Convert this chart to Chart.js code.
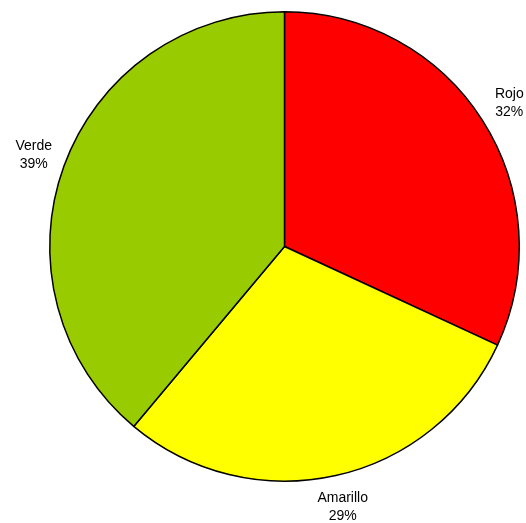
<!DOCTYPE html>
<html>
<head>
<meta charset="utf-8">
<script src="https://cdn.jsdelivr.net/npm/chart.js@4/dist/chart.umd.min.js"></script>
<style>
    html, body { margin: 0; padding: 0; background: #ffffff; }
    #wrap { width: 526px; height: 523px; position: relative; }
</style>
</head>
<body>
<div id="wrap"><canvas id="pie-chart"></canvas></div>
<script>
// Pie data
const categories = ['Rojo', 'Amarillo', 'Verde'];
const shares = [31.9, 29.2, 38.9];
const shareLabels = ['32%', '29%', '39%'];
const sliceColors = ['#ff0000', '#ffff00', '#99cc00'];

// Draw category + percent outside each slice
const outsideLabels = {
    id: 'outsideLabels',
    afterDatasetsDraw(chart) {
        const ctx = chart.ctx;
        const arcs = chart.getDatasetMeta(0).data;
        ctx.save();
        ctx.font = '14px "Liberation Sans", Arial, sans-serif';
        ctx.fillStyle = '#000000';
        ctx.textAlign = 'center';
        ctx.textBaseline = 'middle';
        arcs.forEach(function(arc, i) {
            const mid = (arc.startAngle + arc.endAngle) / 2;
            const r = arc.outerRadius + 32;
            const x = arc.x + Math.cos(mid) * r;
            const y = arc.y + Math.sin(mid) * r;
            ctx.fillText(categories[i], x, y - 9);
            ctx.fillText(shareLabels[i], x, y + 9);
        });
        ctx.restore();
    }
};

const ctx = document.getElementById('pie-chart').getContext('2d');
const pieChart = new Chart(ctx, {
    type: 'pie',
    data: {
        labels: categories,
        datasets: [{
            data: shares,
            backgroundColor: sliceColors,
            borderColor: '#000000',
            borderWidth: 1.5
        }]
    },
    options: {
        responsive: true,
        maintainAspectRatio: false,
        animation: false,
        layout: {
            padding: { left: 49, right: 6, top: 11, bottom: 41 }
        },
        plugins: {
            legend: { display: false },
            tooltip: { enabled: false }
        }
    },
    plugins: [outsideLabels]
});
</script>
</body>
</html>
